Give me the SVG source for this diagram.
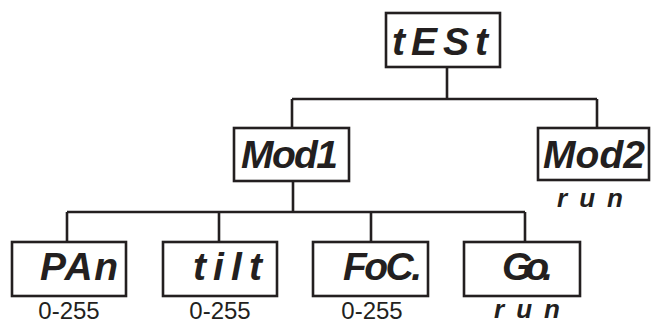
<svg xmlns="http://www.w3.org/2000/svg" width="651" height="325" viewBox="0 0 651 325">
<style>
.box{fill:#fff;stroke:#231f20;stroke-width:2.6}
.seg{font-family:"Liberation Sans",Arial,sans-serif;font-style:italic;font-weight:bold;font-size:39px;fill:#231f20}
.run{font-family:"Liberation Sans",Arial,sans-serif;font-style:italic;font-weight:bold;font-size:26px;fill:#231f20}
.val{font-family:"Liberation Sans",Arial,sans-serif;font-size:24px;fill:#231f20}
.conn{fill:none;stroke:#231f20;stroke-width:2.6}
</style>
<rect width="651" height="325" fill="#fff"/>
<g id="connectors" class="conn">
<path d="M447,67 V99 M292,99 H597 M292,99 V128 M597,99 V128"/>
<path d="M293,181 V212 M67,212 H525 M67,212 V242 M219,212 V242 M371,212 V242 M525,212 V242"/>
</g>
<g id="test">
<rect class="box" x="386" y="13" width="114" height="54"/>
<text class="seg" x="392" y="55" textLength="96" lengthAdjust="spacing">tESt</text>
</g>
<g id="mod1">
<rect class="box" x="234" y="128" width="115" height="53"/>
<text class="seg" x="241" y="168" textLength="97" lengthAdjust="spacing">Mod1</text>
</g>
<g id="mod2">
<rect class="box" x="538" y="128" width="111" height="52"/>
<text class="seg" x="543" y="168" textLength="102" lengthAdjust="spacing">Mod2</text>
<text class="run" x="557" y="207" textLength="66" lengthAdjust="spacing">run</text>
</g>
<g id="pan">
<rect class="box" x="12" y="242" width="114" height="54"/>
<text class="seg" x="40" y="280" textLength="78" lengthAdjust="spacing">PAn</text>
<text class="val" x="69" y="319" text-anchor="middle">0-255</text>
</g>
<g id="tilt">
<rect class="box" x="163" y="242" width="114" height="54"/>
<text class="seg" x="193" y="280" textLength="69" lengthAdjust="spacing">tilt</text>
<text class="val" x="220" y="319" text-anchor="middle">0-255</text>
</g>
<g id="foc">
<rect class="box" x="313" y="242" width="115" height="54"/>
<text class="seg" x="343" y="280" textLength="79" lengthAdjust="spacing">FoC.</text>
<text class="val" x="372" y="319" text-anchor="middle">0-255</text>
</g>
<g id="go">
<rect class="box" x="464" y="242" width="116" height="54"/>
<text class="seg" x="502" y="280" textLength="51" lengthAdjust="spacing">Go.</text>
<text class="run" x="494" y="318" textLength="66" lengthAdjust="spacing">run</text>
</g>
</svg>
